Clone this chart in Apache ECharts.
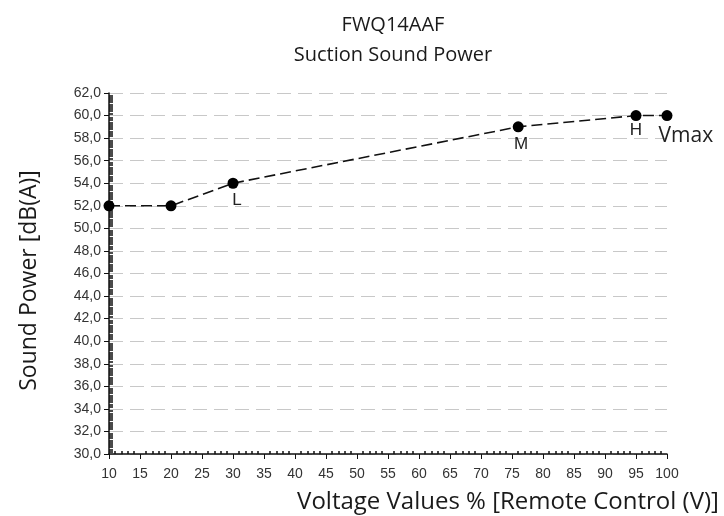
<!DOCTYPE html>
<html>
<head>
<meta charset="utf-8">
<script src="https://cdn.jsdelivr.net/npm/echarts@6/dist/echarts.min.js"></script>
<style>
  html, body { margin: 0; padding: 0; background: #fff; }
  #chart { width: 724px; height: 516px; }
</style>
</head>
<body>
<div id="chart"></div>
<script>
// values
var voltage = [10, 20, 30, 76, 95, 100];
var soundPower = [52, 52, 54, 59, 60, 60];
var pointNames = ['', '', 'L', 'M', 'H', 'Vmax'];

var chart = echarts.init(document.getElementById('chart'));

// label look per point name
var labelStyle = {
  'L': { show: true, position: 'bottom', distance: 3, offset: [4, 0], fontFamily: 'Arial', fontSize: 17, color: '#222' },
  'M': { show: true, position: 'bottom', distance: 3, offset: [3, 0], fontFamily: 'Arial', fontSize: 17, color: '#222' },
  'H': { show: true, position: 'bottom', distance: 1, fontFamily: 'Arial', fontSize: 17, color: '#222' },
  'Vmax': { show: true, position: [-3, 15], fontFamily: 'Open Sans', fontSize: 21, color: '#222' }
};

var seriesData = voltage.map(function (v, i) {
  var item = { value: [v, soundPower[i]], name: pointNames[i] };
  if (labelStyle[pointNames[i]]) {
    item.label = Object.assign({ formatter: '{b}' }, labelStyle[pointNames[i]]);
  }
  return item;
});

var axisFont = { fontFamily: 'Arial', fontSize: 14, color: '#333' };

chart.setOption({
  animation: false,
  title: {
    text: 'FWQ14AAF\nSuction Sound Power',
    left: 388,
    textAlign: 'center',
    top: 5,
    textStyle: { fontFamily: 'Open Sans', fontSize: 20, fontWeight: 'normal', color: '#1a1a1a', lineHeight: 30 }
  },
  grid: { left: 109, right: 57, top: 93, bottom: 62, outerBoundsMode: 'none', containLabel: false },
  xAxis: [
    {
      type: 'value',
      min: 10, max: 100, interval: 5,
      name: 'Voltage Values % [Remote Control (V)]',
      nameLocation: 'middle',
      nameGap: 36,
      nameTextStyle: { fontFamily: 'Open Sans', fontSize: 24, color: '#1a1a1a', padding: [0, 0, 0, 240] },
      axisLine: { show: true, lineStyle: { color: '#111', width: 1.5 } },
      axisTick: { show: true, length: 5, lineStyle: { color: '#111' } },
      axisLabel: Object.assign({ margin: 13 }, axisFont),
      splitLine: { show: false }
    },
    {
      type: 'value',
      min: 10, max: 100, interval: 5,
      position: 'bottom',
      axisLine: { show: false },
      axisTick: { show: false, inside: true },
      minorTick: { show: true, splitNumber: 5, length: 3, lineStyle: { color: '#111', width: 1.5 } },
      axisLabel: { show: false },
      splitLine: { show: false }
    }
  ],
  yAxis: [
    {
      type: 'value',
      min: 30, max: 62, interval: 2,
      name: 'Sound Power [dB(A)]',
      nameLocation: 'middle',
      nameGap: 68,
      nameTextStyle: { fontFamily: 'Open Sans', fontSize: 23, color: '#1a1a1a', padding: [0, 14, 0, 0] },
      axisLine: { show: true, lineStyle: { color: '#111', width: 1.5 } },
      axisTick: { show: true, length: 5, lineStyle: { color: '#111' } },
      axisLabel: Object.assign({
        margin: 8,
        formatter: function (v) { return v.toFixed(1).replace('.', ','); }
      }, axisFont),
      splitLine: { show: true, lineStyle: { color: '#c8c8c8', type: [14, 7], width: 1 } }
    },
    {
      type: 'value',
      min: 30, max: 62, interval: 2,
      position: 'left',
      axisLine: { show: false },
      axisTick: { show: false, inside: true },
      minorTick: { show: true, splitNumber: 10, length: 4, lineStyle: { color: '#111', width: 1.5 } },
      axisLabel: { show: false },
      splitLine: { show: false }
    }
  ],
  series: [
    {
      type: 'line',
      data: seriesData,
      symbol: 'circle',
      symbolSize: 11,
      itemStyle: { color: '#000' },
      lineStyle: { color: '#111', width: 1.6, type: [11, 5] },
      label: { show: false },
      z: 5
    }
  ]
});
</script>
</body>
</html>
